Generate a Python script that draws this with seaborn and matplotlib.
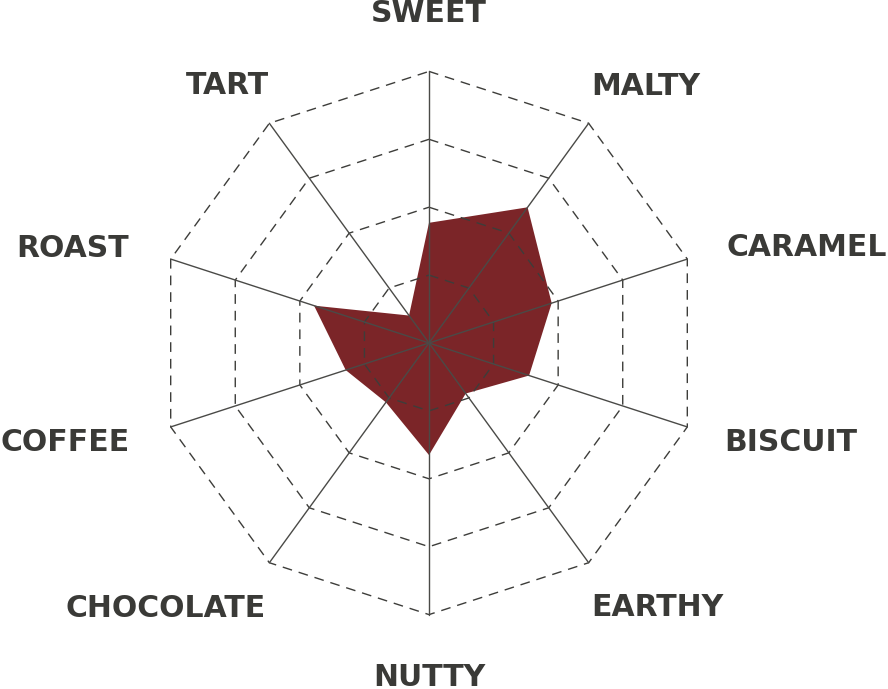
import numpy as np
import pandas as pd
import matplotlib
matplotlib.use("Agg")
import matplotlib.pyplot as plt
import seaborn as sns

# flavour profile, clockwise from the top, scale 0-4
flavours = ["SWEET", "MALTY", "CARAMEL", "BISCUIT", "EARTHY",
            "NUTTY", "CHOCOLATE", "COFFEE", "ROAST", "TART"]
scores = [1.77, 2.47, 1.90, 1.55, 0.92, 1.65, 1.08, 1.29, 1.78, 0.50]
ring_levels = [1, 2, 3, 4]

sns.set_theme(style="white")
plt.rcParams["font.family"] = ["DejaVu Sans"]

px = 67.9  # pixels per ring step
fill_col = "#7b2528"
grid_col = "#3d3d3a"
text_col = "#3a3a37"

n = len(flavours)
ang = np.deg2rad(90 - 360.0 / n * np.arange(n))
df = pd.DataFrame({"flavour": flavours, "score": scores, "ang": ang})
df["x"] = df["score"] * np.cos(df["ang"])
df["y"] = df["score"] * np.sin(df["ang"])

fig = plt.figure(figsize=(8.88, 6.89), dpi=100)
ax = fig.add_axes([0, 0, 1, 1])
ax.set_xlim(-429 / px, 459 / px)
ax.set_ylim(-346 / px, 343 / px)
ax.set_aspect("equal")
ax.axis("off")

# value polygon
ax.fill(np.append(df["x"], df["x"].iloc[0]), np.append(df["y"], df["y"].iloc[0]),
        color=fill_col, lw=0, zorder=1)

# spokes
rmax = ring_levels[-1]
for a in ang:
    ax.plot([0, rmax * np.cos(a)], [0, rmax * np.sin(a)], color="#4a4a47",
            lw=1.0, zorder=3)

# dashed rings
closed = np.append(ang, ang[0])
for r in ring_levels:
    sns.lineplot(x=r * np.cos(closed), y=r * np.sin(closed), sort=False,
                 estimator=None, color=grid_col, lw=1.0, ax=ax, zorder=2,
                 linestyle=(0, (7, 5)))

# labels (centre offsets in ring units)
label_pos = [(0, 4.875), (3.196, 3.814), (5.567, 1.429), (5.331, -1.443),
             (3.358, -3.873), (0, -4.90), (-3.873, -3.888), (-5.361, -1.443),
             (-5.243, 1.414), (-2.975, 3.829)]
cap_half = 10.5 / px
for name, (lx, ly) in zip(flavours, label_pos):
    ax.text(lx, ly - cap_half, name, ha="center", va="baseline",
            fontsize=21.5, fontweight="bold", color=text_col)

fig.savefig("out.png", dpi=100)
